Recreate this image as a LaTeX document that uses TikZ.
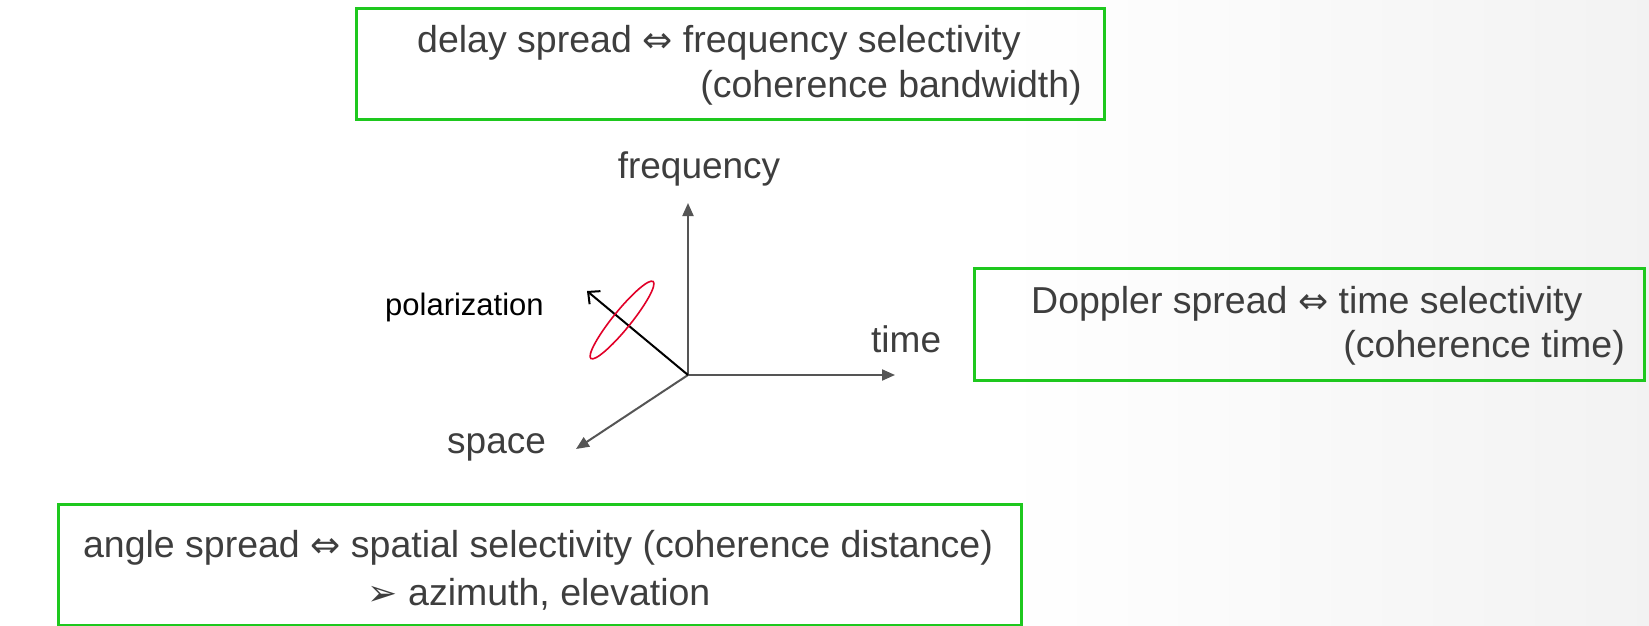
\documentclass[tikz,border=0pt]{standalone}
\usepackage{fontspec}
\setmainfont{Liberation Sans}
\newfontfamily\symf{DejaVu Sans}
\usetikzlibrary{arrows.meta,shapes.geometric}
\definecolor{boxgreen}{RGB}{30,200,30}
\definecolor{ink}{RGB}{62,62,62}
\definecolor{axisgray}{RGB}{85,85,85}
\definecolor{polred}{RGB}{225,0,40}
\newcommand{\equivarrow}{{\symf\fontsize{36pt}{36pt}\selectfont ⇔}}
\newcommand{\pointarrow}{{\symf\fontsize{36pt}{36pt}\selectfont ➢}}

\begin{document}
\begin{tikzpicture}[x=1pt,y=-1pt,
  greenbox/.style={draw=boxgreen, line width=3pt, anchor=north west, inner sep=0pt},
  boxtext/.style={text=ink, font=\fontsize{37.5pt}{44pt}\selectfont, inner sep=0pt},
  axis/.style={draw=axisgray, line width=2pt, -{Triangle[length=13pt,width=11pt]}},
  axislabel/.style={text=ink, font=\fontsize{37pt}{44pt}\selectfont, inner sep=0pt},
  polarrow/.style={draw=black, line width=2pt, -{Straight Barb[length=9pt,width=17pt,line width=2pt]}},
  pollabel/.style={text=black, font=\fontsize{31pt}{36pt}\selectfont, inner sep=0pt},
  polring/.style={draw=polred, line width=1.6pt, ellipse, inner sep=0pt}
]
\useasboundingbox (0,0) rectangle (1649,626);
% background
\fill[white] (0,0) rectangle (1001,626);
\shade[left color=white, right color=gray!10] (1000,0) rectangle (1649,626);

% delay spread box
\node[greenbox, minimum width=748pt, minimum height=111pt] (dbox) at (355,7) {};
\node[boxtext, anchor=base west] (d1) at (417,53) {delay spread \equivarrow\ frequency selectivity};
\node[boxtext, anchor=base east] (d2) at (1082,97) {(coherence bandwidth)};

% Doppler spread box
\node[greenbox, minimum width=670pt, minimum height=112pt] (tbox) at (973,267) {};
\node[boxtext, anchor=base west] (t1) at (1031,313) {Doppler spread \equivarrow\ time selectivity};
\node[boxtext, anchor=base east] (t2) at (1625,357) {(coherence time)};

% angle spread box
\node[greenbox, minimum width=963pt, minimum height=121pt] (abox) at (57,503) {};
\node[boxtext, anchor=base] (a1) at (538,557) {angle spread \equivarrow\ spatial selectivity (coherence distance)};
\node[boxtext, anchor=base] (a2) at (539,605) {\pointarrow\ azimuth, elevation};

% axes
\coordinate (o) at (688,375);
\coordinate (ftip) at (688,203);
\coordinate (ttip) at (895,375);
\coordinate (stip) at (576,449);
\coordinate (ptip) at (587,291);
\draw[axis] (o) -- (ftip);
\draw[axis] (o) -- (ttip);
\draw[axis] (o) -- (stip);
\draw[polarrow] (o) -- (ptip);
\node[polring, minimum width=99pt, minimum height=18pt, rotate=51] (ring) at (622,320) {};

% axis labels
\node[axislabel, anchor=base] (flab) at (699,178) {frequency};
\node[axislabel, anchor=base west] (tlab) at (871,352) {time};
\node[axislabel, anchor=base west] (slab) at (447,453) {space};
\node[pollabel, anchor=base west] (plab) at (385,315) {polarization};
\end{tikzpicture}
\end{document}
